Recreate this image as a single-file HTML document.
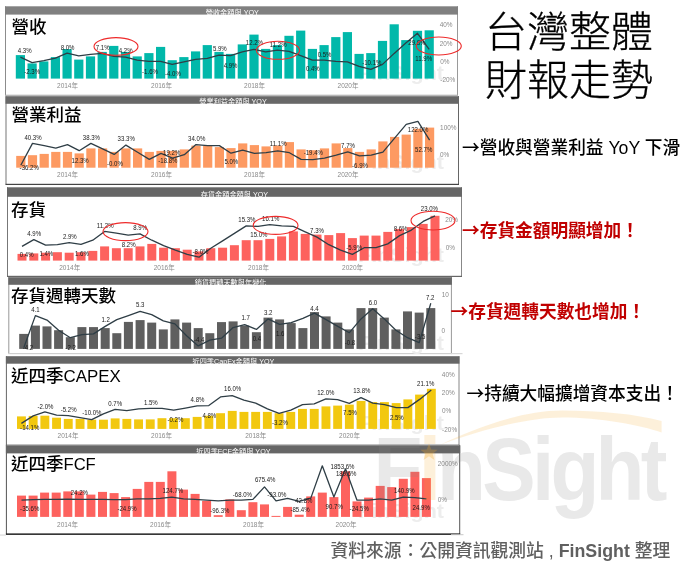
<!DOCTYPE html>
<html lang="zh-Hant"><head><meta charset="utf-8"><title>台灣整體財報走勢</title>
<style>
html,body{margin:0;padding:0;background:#fff;}
body{width:690px;height:566px;overflow:hidden;position:relative;font-family:"Liberation Sans", "Noto Sans CJK TC", sans-serif;}
svg{position:absolute;left:0;top:0;}
text{font-family:"Liberation Sans", "Noto Sans CJK TC", sans-serif;}
.dl{font-size:6.9px;fill:#1a1a1a;text-anchor:middle;}
.sm{font-size:6.1px;}
.ax{font-size:7px;fill:#8a8a8a;text-anchor:middle;}
.yr{font-size:6.5px;fill:#8a8a8a;text-anchor:middle;}
.hd{font-size:7.2px;fill:#fff;text-anchor:middle;}
.wm{font-size:20px;font-weight:bold;fill:#ededed;}
.tt{font-size:17.5px;fill:#000;font-weight:500;}
.big{font-size:42px;font-weight:300;fill:#000;stroke:#000;stroke-width:0.3px;}
.note{font-size:17.7px;fill:#000;font-weight:500;}
.arr{font-family:"Noto Sans CJK TC","Liberation Sans",sans-serif;}
.red{fill:#c00000;font-weight:bold;}
.src{font-size:17.8px;fill:#606060;font-weight:500;}
</style></head><body>
<svg width="690" height="566" viewBox="0 0 690 566">
<g id="p1">
<rect x="5.5" y="6.3" width="452.0" height="89.0" fill="#fff"/>
<rect x="5.0" y="6.3" width="1" height="89.0" fill="#8c8c8c"/>
<rect x="457.0" y="6.3" width="1" height="89.0" fill="#9a9a9a"/>
<rect x="5.0" y="94.7" width="453.0" height="1.2" fill="#b0b0b0"/>
<rect x="5.0" y="6.3" width="453.0" height="8.3" fill="#808080"/>
<text class="hd" x="232.3" y="15.0">營收金額與 YOY</text>
<text class="wm" x="358" y="80.1" textLength="86" lengthAdjust="spacingAndGlyphs">FinSight</text>
<g fill="#01B8AA"><rect x="15.8" y="55.1" width="9.2" height="23.5"/><rect x="27.5" y="63.4" width="9.2" height="15.2"/><rect x="39.2" y="61.4" width="9.2" height="17.2"/><rect x="50.8" y="57.1" width="9.2" height="21.5"/><rect x="62.5" y="49.1" width="9.2" height="29.5"/><rect x="74.2" y="59.6" width="9.2" height="19.0"/><rect x="85.9" y="56.4" width="9.2" height="22.2"/><rect x="97.6" y="51.9" width="9.2" height="26.7"/><rect x="109.2" y="45.9" width="9.2" height="32.7"/><rect x="120.9" y="51.9" width="9.2" height="26.7"/><rect x="132.6" y="56.4" width="9.2" height="22.2"/><rect x="144.3" y="53.1" width="9.2" height="25.5"/><rect x="156.0" y="46.9" width="9.2" height="31.7"/><rect x="167.6" y="60.2" width="9.2" height="18.4"/><rect x="179.3" y="57.1" width="9.2" height="21.5"/><rect x="191.0" y="51.4" width="9.2" height="27.2"/><rect x="202.7" y="45.1" width="9.2" height="33.5"/><rect x="214.4" y="51.9" width="9.2" height="26.7"/><rect x="226.0" y="53.9" width="9.2" height="24.7"/><rect x="237.7" y="44.4" width="9.2" height="34.2"/><rect x="249.4" y="34.6" width="9.2" height="44.0"/><rect x="261.1" y="48.9" width="9.2" height="29.7"/><rect x="272.8" y="45.1" width="9.2" height="33.5"/><rect x="284.4" y="35.8" width="9.2" height="42.8"/><rect x="296.1" y="30.6" width="9.2" height="48.0"/><rect x="307.8" y="48.9" width="9.2" height="29.7"/><rect x="319.5" y="45.1" width="9.2" height="33.5"/><rect x="331.2" y="37.1" width="9.2" height="41.5"/><rect x="342.8" y="32.1" width="9.2" height="46.5"/><rect x="354.5" y="53.9" width="9.2" height="24.7"/><rect x="366.2" y="53.1" width="9.2" height="25.5"/><rect x="377.9" y="40.9" width="9.2" height="37.7"/><rect x="389.6" y="24.3" width="9.2" height="54.3"/><rect x="401.2" y="40.1" width="9.2" height="38.5"/><rect x="412.9" y="30.8" width="9.2" height="47.8"/><rect x="424.6" y="30.3" width="9.2" height="48.3"/></g>
<polyline fill="none" stroke="#2f3e46" stroke-width="1.3" stroke-linejoin="round" points="20.4,57.1 32.1,62.7 43.8,60.7 55.4,58.1 67.1,53.1 78.8,55.9 90.5,54.4 102.2,53.4 113.8,56.4 125.5,57.1 137.2,60.2 148.9,61.4 160.6,61.4 172.2,64.4 183.9,61.9 195.6,59.4 207.3,58.4 219.0,55.1 230.6,55.6 242.3,51.9 254.0,49.4 265.7,51.9 277.4,50.1 289.0,51.4 300.7,55.6 312.4,60.2 324.1,60.2 335.8,61.4 347.4,61.9 359.1,66.4 370.8,69.4 382.5,64.4 394.2,53.4 405.8,43.1 417.5,33.3 429.2,49.4"/>
<text class="dl" transform="translate(24.7 52.7) scale(0.88 1)">4.3%</text>
<text class="dl" transform="translate(32.2 74.0) scale(0.88 1)">-2.3%</text>
<text class="dl" transform="translate(67.6 49.5) scale(0.88 1)">8.0%</text>
<text class="dl" transform="translate(102.7 49.5) scale(0.88 1)">7.1%</text>
<text class="dl" transform="translate(125.7 52.7) scale(0.88 1)">4.2%</text>
<text class="dl" transform="translate(150.0 74.0) scale(0.88 1)">-1.6%</text>
<text class="dl" transform="translate(172.9 75.8) scale(0.88 1)">-4.0%</text>
<text class="dl" transform="translate(219.8 50.7) scale(0.88 1)">5.9%</text>
<text class="dl" transform="translate(230.6 67.5) scale(0.88 1)">4.9%</text>
<text class="dl" transform="translate(254.4 45.2) scale(0.88 1)">12.2%</text>
<text class="dl" transform="translate(278.2 47.0) scale(0.88 1)">11.2%</text>
<text class="dl" transform="translate(312.8 70.8) scale(0.88 1)">0.4%</text>
<text class="dl" transform="translate(324.6 56.5) scale(0.88 1)">0.5%</text>
<text class="dl" transform="translate(371.8 65.0) scale(0.88 1)">-10.1%</text>
<text class="dl" transform="translate(416.9 44.5) scale(0.88 1)">29.8%</text>
<text class="dl" transform="translate(423.7 61.2) scale(0.88 1)">11.9%</text>
<text class="ax" transform="translate(446.1 26.9) scale(0.92 1)">40%</text>
<text class="ax" transform="translate(446.1 45.7) scale(0.92 1)">20%</text>
<text class="ax" transform="translate(444.8 63.5) scale(0.92 1)">0%</text>
<text class="ax" transform="translate(447.8 82.0) scale(0.92 1)">-20%</text>
<text class="yr" x="67.5" y="88.0">2014年</text>
<text class="yr" x="161.5" y="88.0">2016年</text>
<text class="yr" x="254.5" y="88.0">2018年</text>
<text class="yr" x="348.0" y="88.0">2020年</text>
<ellipse cx="116.0" cy="46.4" rx="22.0" ry="8.8" fill="none" stroke="#ee2b2b" stroke-width="1.1"/>
<ellipse cx="278.0" cy="50.3" rx="21.6" ry="9.0" fill="none" stroke="#ee2b2b" stroke-width="1.1"/>
<ellipse cx="438.8" cy="46.0" rx="22.5" ry="9.0" fill="none" stroke="#ee2b2b" stroke-width="1.1"/>
<text class="tt" x="11.5" y="32.8">營收</text>
</g>
<g id="p2">
<rect x="6.0" y="96.2" width="452.5" height="88.2" fill="#fff"/>
<rect x="5.5" y="96.2" width="1" height="88.2" fill="#777"/>
<rect x="458.0" y="96.2" width="1" height="88.2" fill="#666"/>
<rect x="5.5" y="183.8" width="453.5" height="1.2" fill="#444"/>
<rect x="5.5" y="96.2" width="453.5" height="7.6" fill="#686868"/>
<text class="hd" x="233.0" y="104.2">營業利益金額與 YOY</text>
<text class="wm" x="358" y="169.2" textLength="86" lengthAdjust="spacingAndGlyphs">FinSight</text>
<g fill="#FD9A62"><rect x="16.2" y="155.9" width="9.2" height="11.8"/><rect x="27.9" y="155.2" width="9.2" height="12.5"/><rect x="39.6" y="153.9" width="9.2" height="13.8"/><rect x="51.2" y="151.9" width="9.2" height="15.8"/><rect x="62.9" y="151.9" width="9.2" height="15.8"/><rect x="74.6" y="153.4" width="9.2" height="14.3"/><rect x="86.3" y="148.4" width="9.2" height="19.3"/><rect x="98.0" y="148.4" width="9.2" height="19.3"/><rect x="109.6" y="151.9" width="9.2" height="15.8"/><rect x="121.3" y="148.4" width="9.2" height="19.3"/><rect x="133.0" y="148.4" width="9.2" height="19.3"/><rect x="144.7" y="151.9" width="9.2" height="15.8"/><rect x="156.4" y="150.9" width="9.2" height="16.8"/><rect x="168.0" y="150.9" width="9.2" height="16.8"/><rect x="179.7" y="149.4" width="9.2" height="18.3"/><rect x="191.4" y="145.6" width="9.2" height="22.1"/><rect x="203.1" y="145.6" width="9.2" height="22.1"/><rect x="214.8" y="147.1" width="9.2" height="20.6"/><rect x="226.4" y="148.1" width="9.2" height="19.6"/><rect x="238.1" y="143.4" width="9.2" height="24.3"/><rect x="249.8" y="145.1" width="9.2" height="22.6"/><rect x="261.5" y="146.4" width="9.2" height="21.3"/><rect x="273.2" y="145.6" width="9.2" height="22.1"/><rect x="284.8" y="142.1" width="9.2" height="25.6"/><rect x="296.5" y="149.4" width="9.2" height="18.3"/><rect x="308.2" y="150.2" width="9.2" height="17.5"/><rect x="319.9" y="148.4" width="9.2" height="19.3"/><rect x="331.6" y="143.4" width="9.2" height="24.3"/><rect x="343.2" y="148.1" width="9.2" height="19.6"/><rect x="354.9" y="151.9" width="9.2" height="15.8"/><rect x="366.6" y="149.4" width="9.2" height="18.3"/><rect x="378.3" y="141.4" width="9.2" height="26.3"/><rect x="390.0" y="136.9" width="9.2" height="30.8"/><rect x="401.6" y="134.6" width="9.2" height="33.1"/><rect x="413.3" y="128.8" width="9.2" height="38.9"/><rect x="425.0" y="127.6" width="9.2" height="40.1"/></g>
<polyline fill="none" stroke="#2f3e46" stroke-width="1.3" stroke-linejoin="round" points="20.8,165.2 32.5,143.4 44.2,145.6 55.8,148.1 67.5,144.6 79.2,150.7 90.9,143.4 102.6,148.9 114.2,154.4 125.9,145.1 137.6,152.2 149.3,159.4 161.0,153.4 172.6,158.2 184.3,154.7 196.0,144.6 207.7,145.6 219.4,145.6 231.0,153.2 242.7,150.2 254.4,153.4 266.1,152.7 277.8,150.9 289.4,152.7 301.1,159.4 312.8,159.7 324.5,158.2 336.2,155.2 347.8,151.9 359.5,155.9 371.2,155.2 382.9,152.2 394.6,138.1 406.2,124.3 417.9,121.3 429.6,140.1"/>
<text class="dl" transform="translate(33.0 139.5) scale(0.88 1)">40.3%</text>
<text class="dl" transform="translate(29.2 169.5) scale(0.88 1)">-36.2%</text>
<text class="dl" transform="translate(91.4 139.5) scale(0.88 1)">38.3%</text>
<text class="dl" transform="translate(80.1 162.5) scale(0.88 1)">12.3%</text>
<text class="dl" transform="translate(126.2 140.7) scale(0.88 1)">33.3%</text>
<text class="dl" transform="translate(114.9 165.8) scale(0.88 1)">-0.0%</text>
<text class="dl" transform="translate(171.7 155.3) scale(0.88 1)">19.2%</text>
<text class="dl" transform="translate(167.9 162.8) scale(0.88 1)">-18.8%</text>
<text class="dl" transform="translate(196.7 140.7) scale(0.88 1)">34.0%</text>
<text class="dl" transform="translate(231.3 164.0) scale(0.88 1)">5.0%</text>
<text class="dl" transform="translate(278.2 146.2) scale(0.88 1)">11.1%</text>
<text class="dl" transform="translate(313.3 155.3) scale(0.88 1)">-19.4%</text>
<text class="dl" transform="translate(348.0 147.7) scale(0.88 1)">7.7%</text>
<text class="dl" transform="translate(360.0 167.5) scale(0.88 1)">-6.9%</text>
<text class="dl" transform="translate(418.1 132.4) scale(0.88 1)">122.0%</text>
<text class="dl" transform="translate(423.7 152.0) scale(0.88 1)">52.7%</text>
<text class="ax" transform="translate(448.3 130.2) scale(0.92 1)">100%</text>
<text class="ax" transform="translate(444.6 157.0) scale(0.92 1)">0%</text>
<text class="yr" x="67.5" y="177.0">2014年</text>
<text class="yr" x="161.5" y="177.0">2016年</text>
<text class="yr" x="254.5" y="177.0">2018年</text>
<text class="yr" x="348.0" y="177.0">2020年</text>
<text class="tt" x="11.5" y="120.8">營業利益</text>
</g>
<g id="p3">
<rect x="7.5" y="187.3" width="454.0" height="89.1" fill="#fff"/>
<rect x="7.0" y="187.3" width="1" height="89.1" fill="#777"/>
<rect x="461.0" y="187.3" width="1" height="89.1" fill="#888"/>
<rect x="7.0" y="275.8" width="455.0" height="1.2" fill="#666"/>
<rect x="7.0" y="187.3" width="455.0" height="9.5" fill="#666"/>
<text class="hd" x="234.4" y="197.2">存貨金額金額與 YOY</text>
<text class="wm" x="358" y="262.1" textLength="86" lengthAdjust="spacingAndGlyphs">FinSight</text>
<g fill="#FD625E"><rect x="17.5" y="253.9" width="9.0" height="6.7"/><rect x="29.3" y="253.4" width="9.0" height="7.2"/><rect x="41.1" y="252.7" width="9.0" height="7.9"/><rect x="52.9" y="252.2" width="9.0" height="8.4"/><rect x="64.7" y="252.7" width="9.0" height="7.9"/><rect x="76.5" y="252.2" width="9.0" height="8.4"/><rect x="88.3" y="250.9" width="9.0" height="9.7"/><rect x="100.1" y="246.4" width="9.0" height="14.2"/><rect x="111.9" y="248.2" width="9.0" height="12.4"/><rect x="123.7" y="248.2" width="9.0" height="12.4"/><rect x="135.5" y="246.4" width="9.0" height="14.2"/><rect x="147.3" y="243.9" width="9.0" height="16.7"/><rect x="159.1" y="247.7" width="9.0" height="12.9"/><rect x="170.9" y="248.2" width="9.0" height="12.4"/><rect x="182.7" y="249.7" width="9.0" height="10.9"/><rect x="194.5" y="251.4" width="9.0" height="9.2"/><rect x="206.3" y="248.2" width="9.0" height="12.4"/><rect x="218.1" y="247.7" width="9.0" height="12.9"/><rect x="229.9" y="245.2" width="9.0" height="15.4"/><rect x="241.7" y="240.2" width="9.0" height="20.4"/><rect x="253.5" y="240.2" width="9.0" height="20.4"/><rect x="265.3" y="238.9" width="9.0" height="21.7"/><rect x="277.1" y="236.4" width="9.0" height="24.2"/><rect x="288.9" y="231.4" width="9.0" height="29.2"/><rect x="300.7" y="233.9" width="9.0" height="26.7"/><rect x="312.5" y="234.6" width="9.0" height="26.0"/><rect x="324.3" y="235.1" width="9.0" height="25.5"/><rect x="336.1" y="233.1" width="9.0" height="27.5"/><rect x="347.9" y="238.1" width="9.0" height="22.5"/><rect x="359.7" y="235.6" width="9.0" height="25.0"/><rect x="371.5" y="235.6" width="9.0" height="25.0"/><rect x="383.3" y="231.9" width="9.0" height="28.7"/><rect x="395.1" y="228.9" width="9.0" height="31.7"/><rect x="406.9" y="227.1" width="9.0" height="33.5"/><rect x="418.7" y="223.9" width="9.0" height="36.7"/><rect x="430.5" y="215.8" width="9.0" height="44.8"/></g>
<polyline fill="none" stroke="#2f3e46" stroke-width="1.3" stroke-linejoin="round" points="22.0,246.4 33.8,239.6 45.6,245.2 57.4,244.7 69.2,242.7 81.0,244.4 92.8,240.2 104.6,231.4 116.4,233.1 128.2,235.1 140.0,233.9 151.8,240.2 163.6,245.7 175.4,250.2 187.2,254.4 199.0,257.2 210.8,248.2 222.6,240.9 234.4,233.4 246.2,225.9 258.0,226.4 269.8,224.6 281.6,225.9 293.4,226.4 305.2,231.9 317.0,237.1 328.8,244.7 340.6,250.2 352.4,254.4 364.2,247.7 376.0,247.7 387.8,243.9 399.6,235.6 411.4,230.1 423.2,221.4 435.0,215.8"/>
<text class="dl" transform="translate(34.2 235.7) scale(0.88 1)">4.9%</text>
<text class="dl" transform="translate(26.7 257.0) scale(0.88 1)">0.4%</text>
<text class="dl" transform="translate(46.3 255.8) scale(0.88 1)">1.4%</text>
<text class="dl" transform="translate(69.8 238.7) scale(0.88 1)">2.9%</text>
<text class="dl" transform="translate(81.9 256.3) scale(0.88 1)">1.6%</text>
<text class="dl" transform="translate(105.2 227.7) scale(0.88 1)">11.2%</text>
<text class="dl" transform="translate(128.7 247.0) scale(0.88 1)">8.2%</text>
<text class="dl" transform="translate(140.2 230.2) scale(0.88 1)">8.9%</text>
<text class="dl" transform="translate(200.5 253.8) scale(0.88 1)">-8.0%</text>
<text class="dl" transform="translate(246.9 221.9) scale(0.88 1)">15.3%</text>
<text class="dl" transform="translate(270.7 221.2) scale(0.88 1)">16.1%</text>
<text class="dl" transform="translate(258.9 237.0) scale(0.88 1)">15.0%</text>
<text class="dl" transform="translate(317.0 232.7) scale(0.88 1)">7.3%</text>
<text class="dl" transform="translate(354.2 250.3) scale(0.88 1)">-5.9%</text>
<text class="dl" transform="translate(400.6 231.2) scale(0.88 1)">8.6%</text>
<text class="dl" transform="translate(429.4 211.4) scale(0.88 1)">23.0%</text>
<text class="ax" transform="translate(451.6 222.2) scale(0.92 1)">20%</text>
<text class="ax" transform="translate(450.3 249.8) scale(0.92 1)">0%</text>
<text class="yr" x="69.7" y="270.0">2014年</text>
<text class="yr" x="164.2" y="270.0">2016年</text>
<text class="yr" x="258.5" y="270.0">2018年</text>
<text class="yr" x="352.6" y="270.0">2020年</text>
<ellipse cx="125.5" cy="231.6" rx="22.5" ry="9.0" fill="none" stroke="#ee2b2b" stroke-width="1.1"/>
<ellipse cx="275.6" cy="225.4" rx="22.4" ry="9.0" fill="none" stroke="#ee2b2b" stroke-width="1.1"/>
<ellipse cx="433.0" cy="220.6" rx="22.0" ry="9.4" fill="none" stroke="#ee2b2b" stroke-width="1.1"/>
<text class="tt" x="11.0" y="215.5">存貨</text>
</g>
<g id="p4">
<rect x="8.8" y="277.2" width="442.6" height="76.4" fill="#fff"/>
<rect x="8.3" y="277.2" width="1" height="76.4" fill="#999"/>
<rect x="450.9" y="277.2" width="1" height="76.4" fill="#999"/>
<rect x="8.3" y="353.0" width="443.6" height="1.2" fill="#d0d0d0"/>
<rect x="8.3" y="277.2" width="443.6" height="7.6" fill="#666"/>
<text class="hd" x="230.6" y="285.2">銷貨週轉天數與年變化</text>
<text class="wm" x="358" y="350.4" textLength="86" lengthAdjust="spacingAndGlyphs">FinSight</text>
<g fill="#5F5F5F"><rect x="19.2" y="333.9" width="9.0" height="15.0"/><rect x="30.9" y="325.6" width="9.0" height="23.3"/><rect x="42.5" y="326.4" width="9.0" height="22.5"/><rect x="54.1" y="330.2" width="9.0" height="18.7"/><rect x="65.8" y="337.2" width="9.0" height="11.7"/><rect x="77.4" y="327.1" width="9.0" height="21.8"/><rect x="89.0" y="327.1" width="9.0" height="21.8"/><rect x="100.7" y="328.1" width="9.0" height="20.8"/><rect x="112.3" y="333.2" width="9.0" height="15.7"/><rect x="123.9" y="321.9" width="9.0" height="27.0"/><rect x="135.6" y="320.1" width="9.0" height="28.8"/><rect x="147.2" y="322.6" width="9.0" height="26.3"/><rect x="158.8" y="329.4" width="9.0" height="19.5"/><rect x="170.4" y="319.4" width="9.0" height="29.5"/><rect x="182.1" y="322.6" width="9.0" height="26.3"/><rect x="193.7" y="328.1" width="9.0" height="20.8"/><rect x="205.3" y="333.2" width="9.0" height="15.7"/><rect x="217.0" y="322.1" width="9.0" height="26.8"/><rect x="228.6" y="321.4" width="9.0" height="27.5"/><rect x="240.2" y="325.6" width="9.0" height="23.3"/><rect x="251.9" y="332.2" width="9.0" height="16.7"/><rect x="263.5" y="317.6" width="9.0" height="31.3"/><rect x="275.1" y="319.4" width="9.0" height="29.5"/><rect x="286.7" y="323.1" width="9.0" height="25.8"/><rect x="298.4" y="328.1" width="9.0" height="20.8"/><rect x="310.0" y="312.1" width="9.0" height="36.8"/><rect x="321.6" y="316.4" width="9.0" height="32.5"/><rect x="333.3" y="322.6" width="9.0" height="26.3"/><rect x="344.9" y="329.4" width="9.0" height="19.5"/><rect x="356.5" y="308.1" width="9.0" height="40.8"/><rect x="368.2" y="308.1" width="9.0" height="40.8"/><rect x="379.8" y="317.6" width="9.0" height="31.3"/><rect x="391.4" y="329.4" width="9.0" height="19.5"/><rect x="403.0" y="311.4" width="9.0" height="37.5"/><rect x="414.7" y="312.6" width="9.0" height="36.3"/><rect x="426.3" y="308.1" width="9.0" height="40.8"/></g>
<polyline fill="none" stroke="#2f3e46" stroke-width="1.3" stroke-linejoin="round" points="23.8,347.7 35.4,315.6 47.0,320.1 58.6,330.2 70.3,337.7 81.9,334.7 93.5,333.9 105.2,326.4 116.8,319.6 128.4,315.6 140.1,311.4 151.7,314.6 163.3,320.9 174.9,323.9 186.6,335.7 198.2,345.9 209.8,340.2 221.5,338.2 233.1,327.6 244.7,324.6 256.4,329.4 268.0,318.9 279.6,324.4 291.2,322.6 302.9,318.4 314.5,313.1 326.1,319.6 337.8,326.4 349.4,332.7 361.0,318.9 372.7,308.8 384.3,318.9 395.9,330.2 407.5,337.7 419.2,342.7 430.8,303.3"/>
<text class="dl" transform="translate(35.5 311.9) scale(0.88 1)">4.1</text>
<text class="dl" transform="translate(28.0 350.3) scale(0.88 1)">-4.2</text>
<text class="dl" transform="translate(70.6 349.5) scale(0.88 1)">-2.2</text>
<text class="dl" transform="translate(105.7 322.0) scale(0.88 1)">1.2</text>
<text class="dl" transform="translate(140.2 306.9) scale(0.88 1)">5.3</text>
<text class="dl" transform="translate(199.2 341.5) scale(0.88 1)">-4.4</text>
<text class="dl" transform="translate(245.6 320.2) scale(0.88 1)">1.7</text>
<text class="dl" transform="translate(256.9 340.8) scale(0.88 1)">0.4</text>
<text class="dl" transform="translate(268.2 314.5) scale(0.88 1)">3.2</text>
<text class="dl" transform="translate(280.2 335.8) scale(0.88 1)">1.6</text>
<text class="dl" transform="translate(314.5 310.7) scale(0.88 1)">4.4</text>
<text class="dl" transform="translate(350.0 344.5) scale(0.88 1)">-0.8</text>
<text class="dl" transform="translate(373.0 304.9) scale(0.88 1)">6.0</text>
<text class="dl" transform="translate(420.1 338.8) scale(0.88 1)">-3.5</text>
<text class="dl" transform="translate(430.2 299.9) scale(0.88 1)">7.2</text>
<text class="ax" transform="translate(445.3 296.9) scale(0.92 1)">10</text>
<text class="ax" transform="translate(443.3 333.3) scale(0.92 1)">0</text>
<text class="tt" x="11.0" y="301.8">存貨週轉天數</text>
</g>
<g id="p5">
<rect x="6.4" y="356.2" width="452.6" height="89.0" fill="#fff"/>
<rect x="5.9" y="356.2" width="1" height="89.0" fill="#666"/>
<rect x="458.5" y="356.2" width="1" height="89.0" fill="#888"/>
<rect x="5.9" y="444.6" width="453.6" height="1.2" fill="#666"/>
<rect x="5.9" y="356.2" width="453.6" height="7.5" fill="#666"/>
<text class="hd" x="233.4" y="364.1">近四季CapEx金額與 YOY</text>
<text class="wm" x="358" y="430.4" textLength="86" lengthAdjust="spacingAndGlyphs">FinSight</text>
<g fill="#F2C80F"><rect x="17.0" y="416.4" width="8.9" height="12.5"/><rect x="28.7" y="415.9" width="8.9" height="13.0"/><rect x="40.4" y="415.7" width="8.9" height="13.2"/><rect x="52.1" y="417.7" width="8.9" height="11.2"/><rect x="63.8" y="418.9" width="8.9" height="10.0"/><rect x="75.6" y="418.9" width="8.9" height="10.0"/><rect x="87.3" y="419.7" width="8.9" height="9.2"/><rect x="99.0" y="419.7" width="8.9" height="9.2"/><rect x="110.7" y="418.4" width="8.9" height="10.5"/><rect x="122.4" y="418.9" width="8.9" height="10.0"/><rect x="134.1" y="419.4" width="8.9" height="9.5"/><rect x="145.8" y="419.4" width="8.9" height="9.5"/><rect x="157.5" y="418.2" width="8.9" height="10.7"/><rect x="169.2" y="418.2" width="8.9" height="10.7"/><rect x="180.9" y="418.2" width="8.9" height="10.7"/><rect x="192.7" y="416.9" width="8.9" height="12.0"/><rect x="204.4" y="415.7" width="8.9" height="13.2"/><rect x="216.1" y="413.2" width="8.9" height="15.7"/><rect x="227.8" y="410.9" width="8.9" height="18.0"/><rect x="239.5" y="411.9" width="8.9" height="17.0"/><rect x="251.2" y="411.9" width="8.9" height="17.0"/><rect x="262.9" y="411.9" width="8.9" height="17.0"/><rect x="274.6" y="413.2" width="8.9" height="15.7"/><rect x="286.3" y="411.9" width="8.9" height="17.0"/><rect x="298.0" y="408.9" width="8.9" height="20.0"/><rect x="309.8" y="408.9" width="8.9" height="20.0"/><rect x="321.5" y="406.4" width="8.9" height="22.5"/><rect x="333.2" y="405.6" width="8.9" height="23.3"/><rect x="344.9" y="404.6" width="8.9" height="24.3"/><rect x="356.6" y="400.9" width="8.9" height="28.0"/><rect x="368.3" y="402.1" width="8.9" height="26.8"/><rect x="380.0" y="402.1" width="8.9" height="26.8"/><rect x="391.7" y="403.1" width="8.9" height="25.8"/><rect x="403.4" y="399.4" width="8.9" height="29.5"/><rect x="415.1" y="394.6" width="8.9" height="34.3"/><rect x="426.9" y="388.8" width="8.9" height="40.1"/></g>
<polyline fill="none" stroke="#2f3e46" stroke-width="1.3" stroke-linejoin="round" points="21.4,423.4 33.2,415.9 44.9,411.9 56.6,415.2 68.3,415.7 80.0,417.7 91.7,419.7 103.4,413.9 115.1,409.4 126.8,410.7 138.6,408.9 150.3,408.4 162.0,408.4 173.7,410.2 185.4,408.1 197.1,405.9 208.8,405.6 220.5,396.9 232.2,395.6 243.9,400.1 255.7,403.1 267.4,408.9 279.1,413.4 290.8,410.2 302.5,404.6 314.2,403.9 325.9,398.9 337.6,399.6 349.3,403.4 361.0,397.6 372.8,403.1 384.5,404.6 396.2,407.6 407.9,407.6 419.6,399.4 431.3,390.1"/>
<text class="dl" transform="translate(45.5 408.7) scale(0.88 1)">-2.0%</text>
<text class="dl" transform="translate(29.7 430.0) scale(0.88 1)">-14.1%</text>
<text class="dl" transform="translate(68.6 411.5) scale(0.88 1)">-5.2%</text>
<text class="dl" transform="translate(91.9 414.5) scale(0.88 1)">-10.0%</text>
<text class="dl" transform="translate(115.2 405.7) scale(0.88 1)">0.7%</text>
<text class="dl" transform="translate(150.8 405.0) scale(0.88 1)">1.5%</text>
<text class="dl" transform="translate(175.4 422.0) scale(0.88 1)">-0.2%</text>
<text class="dl" transform="translate(197.5 402.0) scale(0.88 1)">4.8%</text>
<text class="dl" transform="translate(209.3 417.5) scale(0.88 1)">4.8%</text>
<text class="dl" transform="translate(232.6 391.4) scale(0.88 1)">16.0%</text>
<text class="dl" transform="translate(279.9 424.5) scale(0.88 1)">-3.2%</text>
<text class="dl" transform="translate(325.8 394.5) scale(0.88 1)">12.0%</text>
<text class="dl" transform="translate(361.8 393.2) scale(0.88 1)">13.8%</text>
<text class="dl" transform="translate(350.0 414.5) scale(0.88 1)">7.5%</text>
<text class="dl" transform="translate(396.8 419.5) scale(0.88 1)">2.5%</text>
<text class="dl" transform="translate(425.7 386.4) scale(0.88 1)">21.1%</text>
<text class="ax" transform="translate(448.3 376.9) scale(0.92 1)">40%</text>
<text class="ax" transform="translate(448.3 394.5) scale(0.92 1)">20%</text>
<text class="ax" transform="translate(446.6 412.8) scale(0.92 1)">0%</text>
<text class="ax" transform="translate(449.6 431.5) scale(0.92 1)">-20%</text>
<text class="yr" x="68.0" y="437.5">2014年</text>
<text class="yr" x="161.5" y="437.5">2016年</text>
<text class="yr" x="255.7" y="437.5">2018年</text>
<text class="yr" x="349.5" y="437.5">2020年</text>
<text class="tt" x="11.0" y="381.9">近四季<tspan style="font-size:16.9px">CAPEX</tspan></text>
</g>
<g id="p6">
<rect x="6.4" y="445.3" width="453.3" height="88.7" fill="#fff"/>
<rect x="5.9" y="445.3" width="1" height="88.7" fill="#555"/>
<rect x="459.2" y="445.3" width="1" height="88.7" fill="#555"/>
<rect x="5.9" y="533.4" width="454.3" height="1.5" fill="#222"/>
<rect x="5.9" y="445.3" width="454.3" height="8.1" fill="#666"/>
<text class="hd" x="233.4" y="453.8">近四季FCF金額與 YOY</text>
<text class="wm" x="358" y="518.4" textLength="86" lengthAdjust="spacingAndGlyphs">FinSight</text>
<g fill="#FD625E"><rect x="17.0" y="495.6" width="9.0" height="21.3"/><rect x="28.6" y="495.6" width="9.0" height="21.3"/><rect x="40.1" y="492.6" width="9.0" height="24.3"/><rect x="51.7" y="492.6" width="9.0" height="24.3"/><rect x="63.3" y="491.4" width="9.0" height="25.5"/><rect x="74.8" y="491.4" width="9.0" height="25.5"/><rect x="86.4" y="494.6" width="9.0" height="22.3"/><rect x="98.0" y="491.9" width="9.0" height="25.0"/><rect x="109.6" y="493.1" width="9.0" height="23.8"/><rect x="121.1" y="497.1" width="9.0" height="19.8"/><rect x="132.7" y="488.9" width="9.0" height="28.0"/><rect x="144.3" y="481.9" width="9.0" height="35.0"/><rect x="155.8" y="481.9" width="9.0" height="35.0"/><rect x="167.4" y="471.3" width="9.0" height="45.6"/><rect x="179.0" y="489.6" width="9.0" height="27.3"/><rect x="190.6" y="493.9" width="9.0" height="23.0"/><rect x="202.1" y="500.9" width="9.0" height="16.0"/><rect x="213.7" y="515.2" width="9.0" height="1.7"/><rect x="225.3" y="499.4" width="9.0" height="17.5"/><rect x="236.8" y="510.2" width="9.0" height="6.7"/><rect x="248.4" y="502.2" width="9.0" height="14.7"/><rect x="260.0" y="504.4" width="9.0" height="12.5"/><rect x="271.5" y="515.9" width="9.0" height="1.0"/><rect x="283.1" y="506.9" width="9.0" height="10.0"/><rect x="294.7" y="514.7" width="9.0" height="2.2"/><rect x="306.2" y="496.4" width="9.0" height="20.5"/><rect x="317.8" y="492.6" width="9.0" height="24.3"/><rect x="329.4" y="497.1" width="9.0" height="19.8"/><rect x="341.0" y="471.3" width="9.0" height="45.6"/><rect x="352.5" y="501.4" width="9.0" height="15.5"/><rect x="364.1" y="497.6" width="9.0" height="19.3"/><rect x="375.7" y="485.9" width="9.0" height="31.0"/><rect x="387.2" y="487.1" width="9.0" height="29.8"/><rect x="398.8" y="478.8" width="9.0" height="38.1"/><rect x="410.4" y="471.8" width="9.0" height="45.1"/><rect x="421.9" y="478.1" width="9.0" height="38.8"/></g>
<polyline fill="none" stroke="#2f3e46" stroke-width="1.3" stroke-linejoin="round" points="21.5,500.2 33.1,499.6 44.6,499.4 56.2,499.4 67.8,499.1 79.3,499.4 90.9,499.4 102.5,499.4 114.1,499.6 125.6,499.6 137.2,498.9 148.8,498.9 160.3,498.4 171.9,497.1 183.5,498.9 195.1,499.4 206.6,500.2 218.2,500.9 229.8,500.2 241.3,500.2 252.9,499.4 264.5,486.9 276.0,500.9 287.6,498.4 299.2,501.4 310.8,498.1 322.3,465.8 333.9,497.1 345.5,468.8 357.0,500.2 368.6,500.2 380.2,498.9 391.7,500.2 403.3,497.1 414.9,497.6 426.4,498.9"/>
<text class="dl" transform="translate(29.7 511.3) scale(0.88 1)">-35.6%</text>
<text class="dl" transform="translate(79.3 495.0) scale(0.88 1)">24.2%</text>
<text class="dl" transform="translate(127.0 511.3) scale(0.88 1)">-24.9%</text>
<text class="dl" transform="translate(172.9 493.2) scale(0.88 1)">124.7%</text>
<text class="dl" transform="translate(219.8 512.5) scale(0.88 1)">-96.3%</text>
<text class="dl" transform="translate(242.4 496.5) scale(0.88 1)">-68.0%</text>
<text class="dl" transform="translate(265.2 482.4) scale(0.88 1)">675.4%</text>
<text class="dl" transform="translate(276.9 496.5) scale(0.88 1)">-93.0%</text>
<text class="dl" transform="translate(303.8 502.5) scale(0.88 1)">42.8%</text>
<text class="dl" transform="translate(300.0 512.0) scale(0.88 1)">-85.4%</text>
<text class="dl" transform="translate(342.5 469.4) scale(0.88 1)">1853.6%</text>
<text class="dl" transform="translate(346.2 476.4) scale(0.88 1)">189.6%</text>
<text class="dl" transform="translate(334.2 509.0) scale(0.88 1)">90.7%</text>
<text class="dl" transform="translate(359.2 511.3) scale(0.88 1)">-24.5%</text>
<text class="dl" transform="translate(404.4 492.7) scale(0.88 1)">140.9%</text>
<text class="dl" transform="translate(421.2 510.0) scale(0.88 1)">24.9%</text>
<text class="ax" transform="translate(447.8 466.4) scale(0.92 1)">2000%</text>
<text class="ax" transform="translate(442.3 502.2) scale(0.92 1)">0%</text>
<text class="yr" x="67.5" y="527.0">2014年</text>
<text class="yr" x="160.5" y="527.0">2016年</text>
<text class="yr" x="253.5" y="527.0">2018年</text>
<text class="yr" x="346.0" y="527.0">2020年</text>
<text class="tt" x="11.0" y="469.5">近四季<tspan style="font-size:16.6px">FCF</tspan></text>
</g>
<rect x="451" y="353" width="11.5" height="1.2" fill="#d8d8d8"/>
<rect x="0" y="534.6" width="6" height="0.9" fill="#d0d0d0"/>
<rect x="451" y="534.2" width="12.5" height="1" fill="#c8c8c8"/>
<text class="big" x="485" y="47.4">台灣整體</text>
<text class="big" x="485" y="94.6">財報走勢</text>
<text class="note" x="462" y="153.5"><tspan class="arr">→</tspan>營收與營業利益 YoY 下滑</text>
<text class="note red" x="462" y="237"><tspan class="arr">→</tspan>存貨金額明顯增加！</text>
<text class="note red" x="450.5" y="318"><tspan class="arr">→</tspan>存貨週轉天數也增加！</text>
<text class="note" x="466.5" y="399.5"><tspan class="arr">→</tspan>持續大幅擴增資本支出！</text>
<path d="M440 445 C470 430 520 410.5 562 410.5 C600 410.5 635 414 661.6 421 L661.6 432.5 C640 425 600 417.5 562 417.5 C525 417.5 475 432 440 445 Z" fill="#f5a623" fill-opacity="0.17"/>
<text transform="translate(373.5 499.5) scale(0.9 1)" style="font-size:89px;font-weight:bold;fill:#878787;fill-opacity:0.18;letter-spacing:-4.2px">F<tspan style="fill:#f5a623;fill-opacity:0.17">i</tspan>nSight</text>
<polygon points="429.0,443.3 431.2,449.4 437.7,449.7 432.6,453.7 434.4,459.9 429.0,456.3 423.6,459.9 425.4,453.7 420.3,449.7 426.8,449.4" fill="#f5a623" fill-opacity="0.27"/>
<text class="src" x="330.5" y="557">資料來源：公開資訊觀測站 , <tspan font-weight="bold">FinSight</tspan> 整理</text>
</svg></body></html>
